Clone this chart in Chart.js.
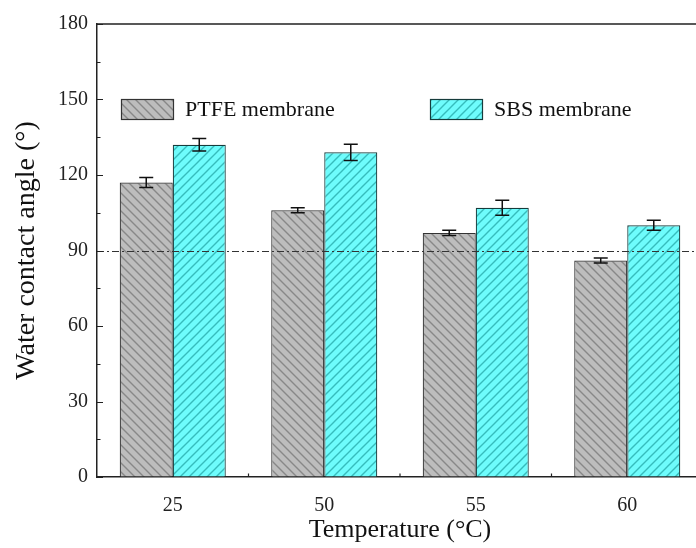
<!DOCTYPE html>
<html>
<head>
<meta charset="utf-8">
<script src="https://cdn.jsdelivr.net/npm/chart.js@4.4.0/dist/chart.umd.min.js"></script>
<style>
  html, body { margin: 0; padding: 0; background: #fff; overflow: hidden; width: 696px; height: 548px; }
  #wrap { position: absolute; left: 0; top: 0; width: 704px; height: 548px; }
</style>
</head>
<body>
<div id="wrap"><canvas id="c" width="704" height="548"></canvas></div>
<script>
// values
const temps = ['25', '50', '55', '60'];
const ptfe = [117, 106, 97, 86];
const sbs = [132, 129, 107, 100];
const ptfeErr = [2, 1, 1, 1];
const sbsErr = [2.5, 3.2, 3, 2];
const seriesNames = ['PTFE membrane', 'SBS membrane'];
const yMin = 0, yMax = 180, yStep = 30;
const refAngle = 90;

const serif = "'Liberation Serif', 'Times New Roman', serif";

function hatch(bg, line, back) {
    const s = 9;
    const c = document.createElement('canvas');
    c.width = c.height = s;
    const g = c.getContext('2d');
    g.fillStyle = bg;
    g.fillRect(0, 0, s, s);
    g.strokeStyle = line;
    g.lineWidth = 1.4;
    g.beginPath();
    if (back) {
        g.moveTo(-1, -1); g.lineTo(s + 1, s + 1);
        g.moveTo(-s / 2 - 1, s / 2 - 1); g.lineTo(s / 2 + 1, s * 1.5 + 1);
        g.moveTo(s / 2 - 1, -s / 2 - 1); g.lineTo(s * 1.5 + 1, s / 2 + 1);
    } else {
        g.moveTo(-1, s + 1); g.lineTo(s + 1, -1);
        g.moveTo(-s / 2 - 1, s / 2 + 1); g.lineTo(s / 2 + 1, -s / 2 - 1);
        g.moveTo(s / 2 - 1, s * 1.5 + 1); g.lineTo(s * 1.5 + 1, s / 2 - 1);
    }
    g.stroke();
    return document.getElementById('c').getContext('2d').createPattern(c, 'repeat');
}

const grayFill = hatch('#bdbdbd', '#888888', true);
const cyanFill = hatch('#6efcfc', '#36bcbc', false);

// error bars, 90 deg reference line, inward ticks, top frame, legend
const extras = {
    id: 'extras',
    afterDatasetsDraw(chart) {
        const ctx = chart.ctx;
        const y = chart.scales.y, x = chart.scales.x;
        const a = chart.chartArea;
        ctx.save();

        // reference line
        const ry = Math.round(y.getPixelForValue(refAngle)) + 0.5;
        ctx.strokeStyle = '#333';
        ctx.lineWidth = 1.2;
        ctx.setLineDash([7, 3, 2, 3]);
        ctx.beginPath();
        ctx.moveTo(a.left, ry);
        ctx.lineTo(a.right, ry);
        ctx.stroke();
        ctx.setLineDash([]);

        // error bars
        const errs = [ptfeErr, sbsErr];
        ctx.strokeStyle = '#111';
        ctx.lineWidth = 1.5;
        chart.data.datasets.forEach((ds, di) => {
            const meta = chart.getDatasetMeta(di);
            meta.data.forEach((bar, i) => {
                const v = ds.data[i], e = errs[di][i];
                const t = y.getPixelForValue(v + e), b = y.getPixelForValue(v - e);
                const cx = bar.x;
                ctx.beginPath();
                ctx.moveTo(cx, t); ctx.lineTo(cx, b);
                ctx.moveTo(cx - 7, t); ctx.lineTo(cx + 7, t);
                ctx.moveTo(cx - 7, b); ctx.lineTo(cx + 7, b);
                ctx.stroke();
            });
        });

        // frame top / right
        ctx.strokeStyle = '#222';
        ctx.lineWidth = 1.5;
        ctx.beginPath();
        ctx.moveTo(a.left, a.top);
        ctx.lineTo(a.right, a.top);
        ctx.lineTo(a.right, a.bottom);
        ctx.stroke();

        // inward ticks on y
        ctx.lineWidth = 1.2;
        ctx.beginPath();
        for (let v = yMin; v <= yMax; v += yStep / 2) {
            const py = Math.round(y.getPixelForValue(v)) + 0.5;
            const len = (v % yStep === 0) ? 6 : 3.5;
            ctx.moveTo(a.left, py);
            ctx.lineTo(a.left + len, py);
        }
        // minor ticks between categories on x
        for (let i = 0; i < temps.length - 1; i++) {
            const px = (x.getPixelForValue(i) + x.getPixelForValue(i + 1)) / 2;
            ctx.moveTo(px, a.bottom);
            ctx.lineTo(px, a.bottom - 3.5);
        }
        ctx.stroke();

        // legend
        const spots = [[121, 99], [430, 99]];
        chart.data.datasets.forEach((ds, di) => {
            const [lx, ly] = spots[di];
            ctx.fillStyle = ds.backgroundColor;
            ctx.fillRect(lx, ly, 52, 20);
            ctx.strokeStyle = ds.borderColor;
            ctx.lineWidth = 1.2;
            ctx.strokeRect(lx + 0.5, ly + 0.5, 52, 20);
            ctx.fillStyle = '#111';
            ctx.font = '22px ' + serif;
            ctx.textBaseline = 'middle';
            ctx.textAlign = 'left';
            ctx.fillText(ds.label, lx + 64, ly + 11);
        });
        ctx.restore();
    }
};

new Chart(document.getElementById('c'), {
    type: 'bar',
    data: {
        labels: temps,
        datasets: [
            { label: seriesNames[0], data: ptfe, backgroundColor: grayFill, borderColor: '#333', borderWidth: 1.2 },
            { label: seriesNames[1], data: sbs, backgroundColor: cyanFill, borderColor: '#163c3c', borderWidth: 1.2 }
        ]
    },
    options: {
        responsive: false,
        animation: false,
        devicePixelRatio: 1,
        categoryPercentage: 0.7,
        barPercentage: 1.0,
        layout: { padding: { left: 0, top: 24, right: 1, bottom: 0 } },
        plugins: { legend: { display: false }, tooltip: { enabled: false } },
        scales: {
            x: {
                grid: { display: true, drawOnChartArea: false, drawTicks: false },
                border: { display: true, color: '#222', width: 1.5 },
                ticks: { color: '#222', font: { family: serif, size: 20 }, padding: 17 },
                title: { display: true, text: 'Temperature (°C)', color: '#111', font: { family: serif, size: 26 }, padding: { top: 0, bottom: 2 } },
                afterFit(s) { s.height = 71; }
            },
            y: {
                min: yMin, max: yMax,
                grid: { display: true, drawOnChartArea: false, drawTicks: false },
                border: { display: true, color: '#222', width: 1.5 },
                ticks: { stepSize: yStep, color: '#222', font: { family: serif, size: 20 }, padding: 9 },
                title: { display: true, text: 'Water contact angle (°)', color: '#111', font: { family: serif, size: 28 }, padding: { top: 10, bottom: 0 } },
                afterFit(s) { s.width = 97; }
            }
        }
    },
    plugins: [extras]
});
</script>
</body>
</html>
